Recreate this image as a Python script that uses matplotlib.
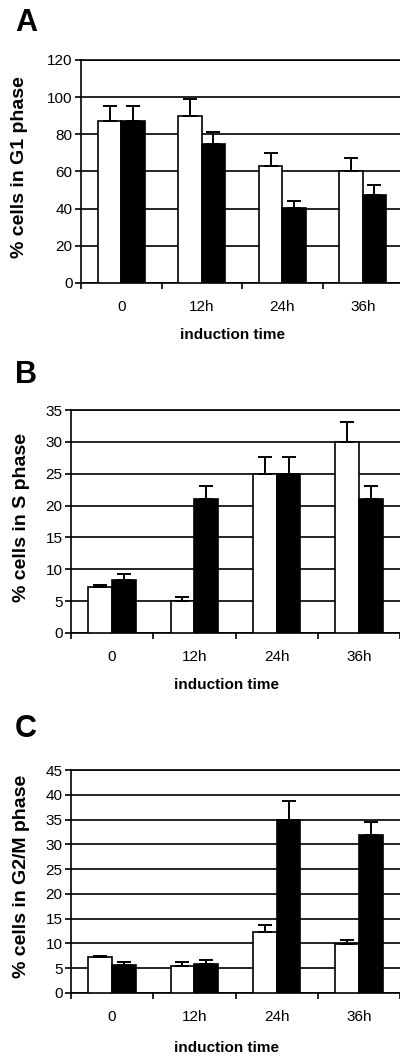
import matplotlib
matplotlib.use("Agg")
import matplotlib.pyplot as plt
import numpy as np

plt.rcParams['font.family'] = ['Liberation Sans', 'DejaVu Sans']

times = ["0", "12h", "24h", "36h"]

# G1 phase
g1_white = [87, 90, 63, 60]
g1_white_err = [8, 9, 7, 7]
g1_black = [87, 75, 40.5, 47.5]
g1_black_err = [8, 6, 3.5, 5]

# S phase
s_white = [7.2, 5.0, 25, 30]
s_white_err = [0.3, 0.6, 2.7, 3.1]
s_black = [8.3, 21, 25, 21]
s_black_err = [0.9, 2.1, 2.7, 2.1]

# G2/M phase
g2_white = [7.2, 5.5, 12.4, 9.9]
g2_white_err = [0.3, 0.7, 1.3, 0.8]
g2_black = [5.6, 5.8, 34.9, 31.8]
g2_black_err = [0.6, 0.8, 3.8, 2.8]

panels = [
    ("A", "% cells in G1 phase", g1_white, g1_white_err, g1_black, g1_black_err,
     120, 20, [81 / 400, 1 - 283 / 1057, 322 / 400, 223 / 1057], 167, 233, 335, 20),
    ("B", "% cells in S phase", s_white, s_white_err, s_black, s_black_err,
     35, 5, [71 / 400, 1 - 633 / 1057, 329 / 400, 223 / 1057], 517, 227, 685, 22),
    ("C", "% cells in G2/M phase", g2_white, g2_white_err, g2_black, g2_black_err,
     45, 5, [71 / 400, 1 - 993 / 1057, 329 / 400, 223 / 1057], 876, 227, 1048, 22),
]
letter_y = [23, 375, 729]

fig = plt.figure(figsize=(4, 10.57), dpi=100)

for k, (letter, ylab, w, we, b, be, ymax, step, rect, ylab_y, xlab_x, xlab_y, ylab_x) in enumerate(panels):
    ax = fig.add_axes(rect)
    x = np.arange(len(times)) + 0.5
    bw = 0.29
    ekw = dict(ecolor="black", elinewidth=1.4, capsize=5, capthick=1.4)
    ax.bar(x - bw / 2, w, bw, color="white", edgecolor="black", linewidth=1.2,
           yerr=[np.zeros(4), we], error_kw=ekw, zorder=3)
    ax.bar(x + bw / 2, b, bw, color="black", edgecolor="black", linewidth=1.2,
           yerr=[np.zeros(4), be], error_kw=ekw, zorder=3)

    ax.set_xlim(0, 4)
    ax.set_ylim(0, ymax)
    ax.set_yticks(np.arange(0, ymax + 1, step))
    ax.yaxis.grid(True, color="black", linewidth=1.2, zorder=0)
    ax.set_axisbelow(True)

    ax.set_xticks(np.arange(0, 5))
    ax.set_xticklabels([])
    ax.set_xticks(x, minor=True)
    ax.set_xticklabels(times, minor=True, fontsize=11)
    ax.tick_params(axis="x", which="major", direction="out", length=4, width=1.2)
    ax.tick_params(axis="x", which="minor", length=0, pad=12)
    ax.tick_params(axis="y", direction="out", length=4, width=1.2, labelsize=11, pad=2)

    ax.spines["right"].set_visible(False)
    for s in ["left", "bottom", "top"]:
        ax.spines[s].set_linewidth(1.2)

    fig.text(ylab_x / 400, 1 - ylab_y / 1057, ylab, rotation=90, ha="center", va="center",
             fontsize=14, fontweight="bold")
    fig.text(xlab_x / 400, 1 - xlab_y / 1057, "induction time", ha="center", va="center",
             fontsize=11, fontweight="bold")
    fig.text(15 / 400, 1 - letter_y[k] / 1057, letter, ha="left", va="center",
             fontsize=22, fontweight="bold")

fig.savefig("out.png", dpi=100)
